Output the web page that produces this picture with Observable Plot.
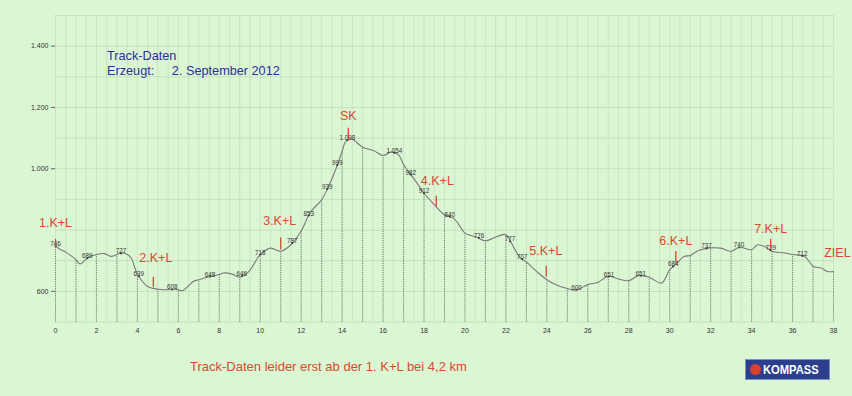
<!DOCTYPE html>
<html><head><meta charset="utf-8">
<script src="https://cdn.jsdelivr.net/npm/d3@7"></script>
<script src="https://cdn.jsdelivr.net/npm/@observablehq/plot@0.6"></script>
<style>
body{margin:0;background:#daf6d2;font-family:"Liberation Sans",Arial,sans-serif;}
#wrap{position:relative;width:852px;height:396px;overflow:hidden;background:#daf6d2;}
#chart{position:absolute;left:0;top:0;}
#title{position:absolute;left:107px;top:49px;color:#2e2e9e;font-size:12.7px;line-height:15px;white-space:pre;}
#caption{position:absolute;left:190px;top:359px;color:#d64a30;font-size:13px;white-space:nowrap;}
#logo{position:absolute;left:745px;top:359px;width:85px;height:21px;background:#2b3f8c;border:1px solid #7f8fc4;box-sizing:border-box;color:#fff;font-weight:bold;font-size:13px;line-height:19px;}
#logo span.dot{position:absolute;left:4px;top:4px;width:11px;height:11px;border-radius:50%;background:#d8402f;}
#logo span.t{position:absolute;left:17px;top:0;transform:scaleX(0.86);transform-origin:left center;}
</style></head>
<body>
<div id="wrap">
  <div id="chart"></div>
  <div id="title">Track-Daten
Erzeugt:     2. September 2012</div>
  <div id="caption">Track-Daten leider erst ab der 1. K+L bei 4,2 km</div>
  <div id="logo"><span class="dot"></span><span class="t">KOMPASS</span></div>
</div>
<script>
// Elevation profile (km, m)
const profileKm = [0,0.25,0.5,0.9,1,1.2,1.55,2,2.4,2.7,3,3.1,3.45,3.7,3.9,4,4.1,4.5,4.9,5,5.5,5.8,6,6.2,6.75,7,7.4,8,8.2,8.6,9,9.45,9.9,10,10.5,11,11.5,12,12.45,13,13.3,13.7,14,14.2,14.5,15,15.55,16,16.4,16.75,17,17.25,17.6,18,18.5,19,19.45,19.8,20,20.6,21,21.6,22,22.4,22.7,23,23.5,24,24.5,25,25.4,26,26.5,27,27.45,28,28.5,29,29.6,30,30.3,30.7,31,31.4,31.85,32,32.5,33,33.4,34,34.3,34.7,35,35.6,36,36.6,37,37.4,37.7,38];
const profileElev = [748,736,728,709,703,689,708,720,723,714,720,724,723,708,672,658,645,616,608,607,605,607,605,602,633,638,646,655,660,657,646,665,712,720,741,731,752,797,858,899,937,1000,1057,1092,1096,1070,1059,1043,1055,1046,1014,990,959,920,883,850,838,808,790,776,765,780,785,741,709,696,665,638,620,609,604,622,630,649,641,635,652,646,627,671,689,714,717,733,741,742,741,731,744,736,752,744,731,725,720,714,682,676,665,665];

// Elevation value labels
const labelKm = [0,1.55,3.2,4.07,5.7,7.55,9.1,10,11.56,12.37,13.27,13.76,14.25,16.55,17.35,18,19.26,20.68,22.2,22.8,25.45,27.03,28.58,30.17,31.8,33.38,34.93,36.47];
const labelValue = [746,689,727,639,608,648,646,718,787,853,939,999,1098,1054,982,912,840,776,777,707,600,651,651,684,737,740,729,712];

// Red markers (check points)
const markerText = ["1.K+L","2.K+L","3.K+L","SK","4.K+L","5.K+L","6.K+L","7.K+L","ZIEL"];
const markerTextKm = [0,4.9,10.95,14.3,18.65,23.95,30.3,34.93,38.19];
const markerTextElev = [822,708,829,1171,959,731,763,802,724];
const tickKm = [0,4.78,11.0,14.3,18.6,23.97,30.3,34.93];
const tickTop = [770,646,774,1132,910,682,730,770];
const tickBottom = [740,613,736,1090,877,646,692,737];

const xTicks = [0,2,4,6,8,10,12,14,16,18,20,22,24,26,28,30,32,34,36,38];
const yTicks = [600,1000,1200,1400];

const de = d3.formatLocale({decimal: ",", thousands: ".", grouping: [3], currency: ["", "€"]});
const fmt = de.format(",d");

const profile = profileKm.map((k, i) => ({km: k, elev: profileElev[i]}));
const interp = km => {
  const i = d3.bisector(d => d.km).right(profile, km);
  if (i <= 0) return profile[0].elev;
  if (i >= profile.length) return profile[profile.length - 1].elev;
  const a = profile[i - 1], b = profile[i];
  return a.elev + (b.elev - a.elev) * (km - a.km) / (b.km - a.km);
};
const drops = profile.filter(d => Number.isInteger(d.km));
const labels = labelKm.map((k, i) => ({km: k, elev: interp(k), text: fmt(labelValue[i])}));
const markers = markerText.map((t, i) => ({text: t, km: markerTextKm[i], elev: markerTextElev[i]}));
const ticks = tickKm.map((k, i) => ({km: k, y1: tickTop[i], y2: tickBottom[i]}));

const gridX = d3.range(0, 38.001, 0.5);
const gridY = d3.range(500, 1501, 100);

const chart = Plot.plot({
  width: 852,
  height: 340,
  marginLeft: 55,
  marginRight: 19,
  marginTop: 15,
  marginBottom: 18.5,
  style: {background: "transparent", fontFamily: "Liberation Sans, Arial, sans-serif"},
  x: {domain: [0, 38], label: null},
  y: {domain: [500, 1500], label: null},
  marks: [
    Plot.ruleX(gridX, {x: d => d, y1: 500, y2: 1500, stroke: "#a9c7a2", strokeOpacity: 0.45, strokeWidth: 0.7}),
    Plot.ruleY(gridY, {y: d => d, x1: 0, x2: 38, stroke: "#a9c7a2", strokeOpacity: 0.6, strokeWidth: 0.7}),
    Plot.axisY({ticks: yTicks, tickFormat: fmt, tickSize: 4, tickPadding: 3, fontSize: 7, stroke: "#666", fill: "#333"}),
    Plot.axisX({ticks: xTicks, tickSize: 0, tickPadding: 6, fontSize: 7, fill: "#333"}),
    Plot.ruleX(drops, {x: "km", y1: 500, y2: "elev", stroke: "#555", strokeWidth: 0.8, strokeDasharray: "1,1.3"}),
    Plot.line(profile, {x: "km", y: "elev", stroke: "#7a7a7a", strokeWidth: 1.1, curve: "catmull-rom"}),
    Plot.dot(labels, {x: "km", y: "elev", r: 1, fill: "#444"}),
    Plot.text(labels, {x: "km", y: "elev", text: "text", dy: -2, fontSize: 6.3, fill: "#333"}),
    Plot.ruleX(ticks, {x: "km", y1: "y1", y2: "y2", stroke: "#d64a30", strokeWidth: 1.3}),
    Plot.text(markers, {x: "km", y: "elev", text: "text", fontSize: 12.5, fill: "#d64a30"})
  ]
});
document.getElementById("chart").appendChild(chart);
</script>
</body></html>
